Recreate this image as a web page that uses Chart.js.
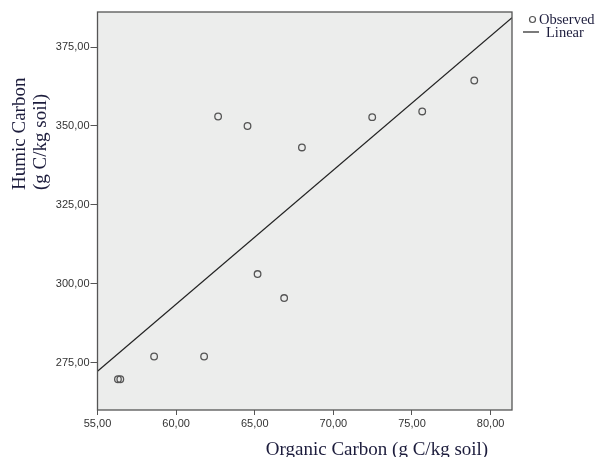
<!DOCTYPE html>
<html>
<head>
<meta charset="utf-8">
<script src="https://cdn.jsdelivr.net/npm/chart.js@4.4.0/dist/chart.umd.min.js"></script>
<style>
  html, body { margin: 0; padding: 0; background: #fff; }
  #wrap { width: 598px; height: 457px; position: relative; }
</style>
</head>
<body>
<div id="wrap"><canvas id="myChart" width="598" height="457"></canvas></div>
<script>
// observed points (organic carbon, humic carbon)
var organicC = [56.30, 56.45, 58.60, 61.78, 62.67, 64.54, 65.18, 66.87, 68.00, 72.47, 75.65, 78.96];
var humicC   = [269.8, 269.8, 277.0, 277.0, 353.0, 350.0, 303.1, 295.5, 343.2, 352.8, 354.6, 364.4];

// fitted line, drawn across the whole axis
var lineX = [55.00, 81.36];
var lineY = [272.3, 384.3];

var xTicks = [55, 60, 65, 70, 75, 80];
var yTicks = [275, 300, 325, 350, 375];

var observed = [];
for (var i = 0; i < organicC.length; i++) {
  observed.push({ x: organicC[i], y: humicC[i] });
}
var linear = [];
for (i = 0; i < lineX.length; i++) {
  linear.push({ x: lineX[i], y: lineY[i] });
}

function fmt(v) {
  return v.toFixed(2).replace('.', ',');
}

var serif = '"Liberation Serif", "DejaVu Serif", serif';
var titleColor = '#1c1c3c';

var decor = {
  id: 'decor',
  beforeDraw: function (chart) {
    var a = chart.chartArea, c = chart.ctx;
    c.save();
    c.fillStyle = '#ecedec';
    c.fillRect(a.left, a.top, a.right - a.left, a.bottom - a.top);
    c.restore();
  },
  afterDraw: function (chart) {
    var a = chart.chartArea, c = chart.ctx;
    c.save();
    c.strokeStyle = '#555';
    c.lineWidth = 1.3;
    c.strokeRect(a.left, a.top, a.right - a.left, a.bottom - a.top);

    // axis titles
    c.fillStyle = titleColor;
    c.font = '19px ' + serif;
    c.textAlign = 'center';
    c.textBaseline = 'alphabetic';
    c.fillText('Organic Carbon (g C/kg soil)', 377, 455);

    c.translate(0, 190);
    c.rotate(-Math.PI / 2);
    c.textAlign = 'left';
    c.fillText('Humic Carbon', 0, 25);
    c.fillText('(g C/kg soil)', 0, 46);
    c.restore();

    // legend
    c.save();
    c.fillStyle = titleColor;
    c.font = '14.5px ' + serif;
    c.textAlign = 'left';
    c.textBaseline = 'alphabetic';
    c.strokeStyle = '#555';
    c.lineWidth = 1.2;
    c.beginPath();
    c.arc(532.5, 19.5, 3, 0, Math.PI * 2);
    c.stroke();
    c.fillText('Observed', 539, 23.5);
    c.strokeStyle = '#222';
    c.beginPath();
    c.moveTo(523, 32);
    c.lineTo(539, 32);
    c.stroke();
    c.fillText('Linear', 546, 37);
    c.restore();
  }
};

var ctx = document.getElementById('myChart');
var myChart = new Chart(ctx, {
  type: 'scatter',
  data: {
    datasets: [{
      label: 'Observed',
      data: observed,
      pointStyle: 'circle',
      pointRadius: 3.3,
      pointBorderWidth: 1.3,
      borderColor: '#555',
      backgroundColor: 'rgba(0,0,0,0)',
      showLine: false
    }, {
      label: 'Linear',
      data: linear,
      showLine: true,
      borderColor: '#222',
      borderWidth: 1.2,
      pointRadius: 0,
      fill: false
    }]
  },
  options: {
    responsive: false,
    animation: false,
    layout: { padding: { top: 12, right: 86, left: 0, bottom: 0 } },
    plugins: {
      legend: { display: false },
      tooltip: { enabled: false }
    },
    scales: {
      x: {
        type: 'linear',
        min: 55,
        max: 81.36,
        afterFit: function (s) { s.height = 47; },
        afterBuildTicks: function (s) {
          s.ticks = xTicks.map(function (v) { return { value: v }; });
        },
        ticks: {
          includeBounds: false,
          autoSkip: false,
          color: '#333',
          font: { family: '"Liberation Sans", Arial, sans-serif', size: 11 },
          padding: 2,
          maxRotation: 0,
          callback: function (v) { return fmt(v); }
        },
        grid: { drawOnChartArea: false, drawTicks: true, tickLength: 5, color: '#555' },
        border: { display: false }
      },
      y: {
        type: 'linear',
        min: 260.05,
        max: 386.1,
        afterFit: function (s) { s.width = 97.5; },
        afterBuildTicks: function (s) {
          s.ticks = yTicks.map(function (v) { return { value: v }; });
        },
        ticks: {
          includeBounds: false,
          autoSkip: false,
          color: '#333',
          font: { family: '"Liberation Sans", Arial, sans-serif', size: 11 },
          padding: 1,
          callback: function (v) { return fmt(v); }
        },
        grid: { drawOnChartArea: false, drawTicks: true, tickLength: 7, color: '#555' },
        border: { display: false }
      }
    }
  },
  plugins: [decor]
});
</script>
</body>
</html>
